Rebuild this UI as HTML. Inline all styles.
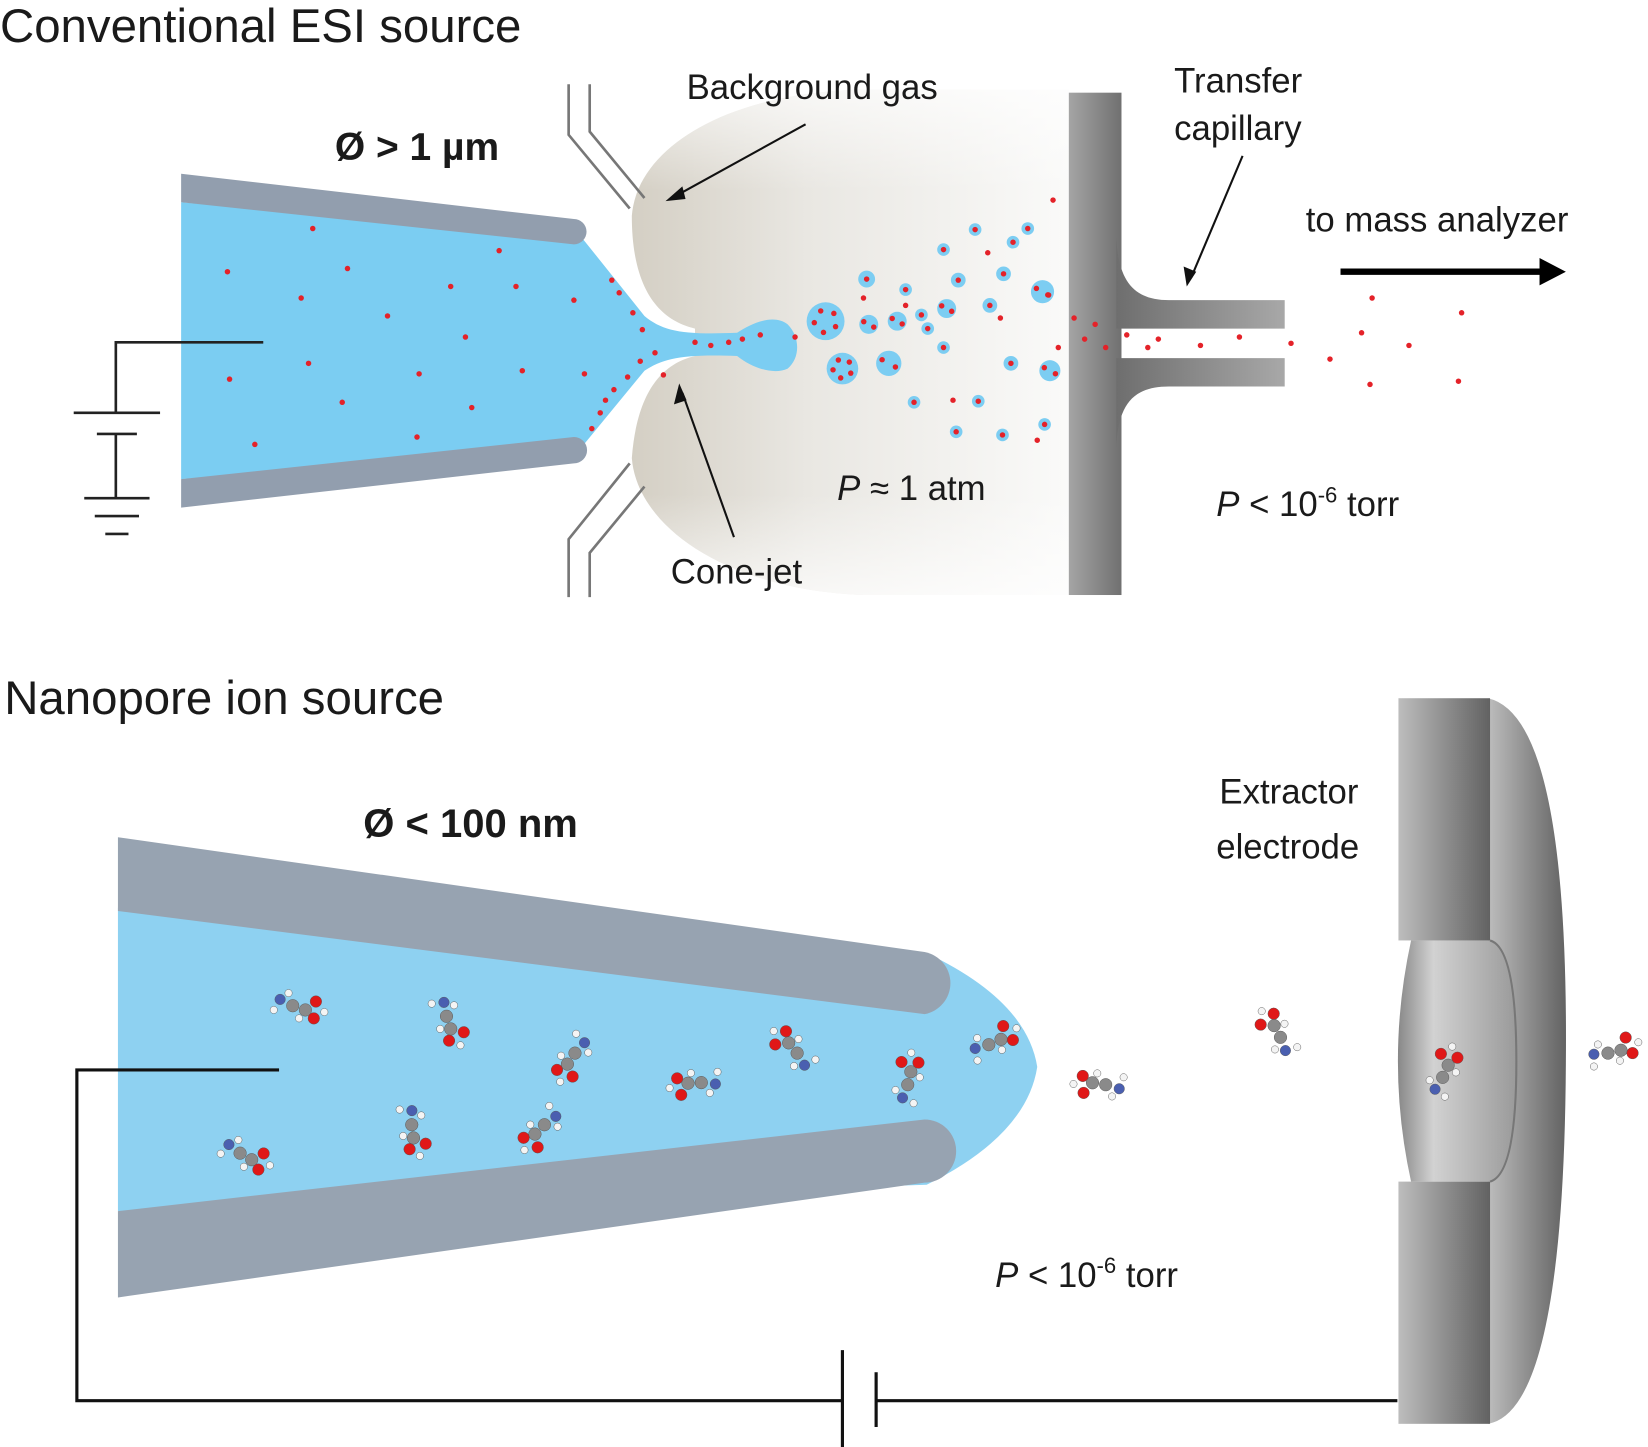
<!DOCTYPE html>
<html><head><meta charset="utf-8"><style>
html,body{margin:0;padding:0;background:#fff}
svg{display:block}
text{font-family:"Liberation Sans",Arial,sans-serif;fill:#1a1a1a}
</style></head><body>
<svg id="fig" width="1648" height="1447" viewBox="0 0 1565 1374" preserveAspectRatio="none" xmlns="http://www.w3.org/2000/svg">
<defs>
<linearGradient id="gas" x1="0" x2="1" y1="0" y2="0">
<stop offset="0" stop-color="#d4cfc4"/><stop offset="0.4" stop-color="#e9e7e2"/><stop offset="1" stop-color="#fafaf9"/></linearGradient>
<linearGradient id="gasfade" x1="0" x2="0" y1="0" y2="1">
<stop offset="0" stop-color="#fff" stop-opacity="0.7"/><stop offset="0.2" stop-color="#fff" stop-opacity="0"/><stop offset="0.8" stop-color="#fff" stop-opacity="0"/><stop offset="1" stop-color="#fff" stop-opacity="0.7"/></linearGradient>
<linearGradient id="cap" x1="0" x2="1"><stop offset="0" stop-color="#a5a5a5"/><stop offset="1" stop-color="#707070"/></linearGradient>
<linearGradient id="tube" x1="0" x2="1"><stop offset="0" stop-color="#6e6e6e"/><stop offset="1" stop-color="#a8a8a8"/></linearGradient>
<linearGradient id="elec" x1="0" x2="1"><stop offset="0" stop-color="#bdbdbd"/><stop offset="1" stop-color="#626262"/></linearGradient>
<linearGradient id="hole" x1="0" x2="1"><stop offset="0" stop-color="#888"/><stop offset="0.3" stop-color="#d2d2d2"/><stop offset="1" stop-color="#9a9a9a"/></linearGradient>
</defs>

<!-- TOP PANEL -->
<text x="0" y="40" font-size="45">Conventional ESI source</text>
<path d="M600,205 C605,140 690,88 820,85 L1015,85 L1015,565 L820,565 C690,560 605,500 600,435 C605,370 630,345 660,338 L660,312 C630,305 600,280 600,205 Z" fill="url(#gas)"/>
<path d="M600,205 C605,140 690,88 820,85 L1015,85 L1015,565 L820,565 C690,560 605,500 600,435 C605,370 630,345 660,338 L660,312 C630,305 600,280 600,205 Z" fill="url(#gasfade)"/>
<g fill="none" stroke="#777" stroke-width="2.5">
<path d="M540,80 V128 L598,198"/><path d="M560,80 V125 L612,188"/>
<path d="M540,567 V512 L598,440"/><path d="M560,567 V525 L612,462"/>
</g>
<path d="M172,192 L552,225 L612,300 C630,315 650,318 700,316 C715,306 735,298 748,308 C760,320 760,340 748,350 C735,356 715,350 700,338 C650,336 630,340 612,352 L552,425 L172,455 Z" fill="#7bcdf2"/>
<path d="M172,165 L545,208 A12,12 0 0 1 545,232 L172,192 Z" fill="#929eae"/>
<path d="M172,455 L545,415 A12,12 0 0 1 545,440 L172,482 Z" fill="#929eae"/>
<g stroke="#222" stroke-width="2.5" fill="none">
<path d="M250,325 H110 V392"/><path d="M70,392 H152"/><path d="M92,412 H130"/><path d="M110,412 V473"/>
<path d="M80,473 H142"/><path d="M90,490 H132"/><path d="M100,507 H122"/>
</g>
<rect x="1015" y="88" width="50" height="477" fill="url(#cap)"/>
<path d="M1060,225 C1062,265 1075,285 1110,285 H1220 V312 H1060 Z" fill="url(#tube)"/>
<path d="M1060,425 C1062,385 1075,367 1110,367 H1220 V340 H1060 Z" fill="url(#tube)"/>
<g id="drops"></g>
<g id="reddots"></g>
<g stroke="#111" stroke-width="2">
<line x1="765" y1="118" x2="640" y2="187"/><line x1="697" y1="510" x2="648" y2="373"/><line x1="1180" y1="148" x2="1131" y2="264"/>
</g>
<g fill="#111"><polygon points="632,191 648,177 651,189"/><polygon points="645,364 640,384 652,380"/><polygon points="1127,272 1124,253 1136,258"/></g>
<line x1="1273" y1="258" x2="1465" y2="258" stroke="#000" stroke-width="6"/>
<polygon points="1462,245 1487,258 1462,271" fill="#000"/>
<text x="318" y="152" font-size="37" font-weight="bold">Ø &gt; 1 µm</text>
<text x="652" y="94" font-size="33">Background gas</text>
<text x="1115" y="88" font-size="33">Transfer</text>
<text x="1115" y="133" font-size="33">capillary</text>
<text x="1240" y="220" font-size="33">to mass analyzer</text>
<text x="795" y="475" font-size="33"><tspan font-style="italic">P</tspan> ≈ 1 atm</text>
<text x="1155" y="490" font-size="33"><tspan font-style="italic">P</tspan> &lt; 10<tspan font-size="21" dy="-13">-6</tspan><tspan dy="13"> torr</tspan></text>
<text x="637" y="554" font-size="33">Cone-jet</text>

<!-- BOTTOM PANEL -->
<text x="4" y="678" font-size="45">Nanopore ion source</text>
<text x="345" y="795" font-size="38" font-weight="bold">Ø &lt; 100 nm</text>
<path d="M112,862 L880,905 Q975,950 985,1013 Q975,1078 880,1125 L112,1150 Z" fill="#8ed1f1"/>
<path d="M112,795 L878,904 A30,30 0 0 1 878,963 L112,865 Z" fill="#97a3b1"/>
<path d="M112,1150 L878,1063 A30,30 0 0 1 878,1123 L112,1232 Z" fill="#97a3b1"/>
<g stroke="#111" stroke-width="3" fill="none">
<path d="M265,1016 H73 V1330 H800"/><path d="M800,1282 V1375"/><path d="M832,1303 V1355"/><path d="M832,1330 H1327"/>
</g>
<path d="M1413,663 Q1490,680 1487,1010 Q1485,1340 1413,1352 Z" fill="url(#elec)"/>
<rect x="1328" y="663" width="87" height="230" fill="url(#elec)"/>
<rect x="1328" y="1122" width="87" height="230" fill="url(#elec)"/>
<path d="M1340,893 H1415 Q1440,900 1440,1008 Q1440,1115 1415,1122 H1340 Q1315,1008 1340,893 Z" fill="url(#hole)"/>
<path d="M1415,893 Q1440,900 1440,1008 Q1440,1115 1415,1122" fill="none" stroke="#777" stroke-width="2"/>
<text x="1158" y="763" font-size="33">Extractor</text>
<text x="1155" y="815" font-size="33">electrode</text>
<text x="945" y="1222" font-size="33"><tspan font-style="italic">P</tspan> &lt; 10<tspan font-size="21" dy="-13">-6</tspan><tspan dy="13"> torr</tspan></text>
<g id="mols"></g>
</svg>
<script>
const NS='http://www.w3.org/2000/svg';
const dropX=[784,825,852,800,844,823,860,910,899,940,953,990,976,926,896,896,960,997,868,908,952,992,929,875,962,881,1004];
const dropY=[305,308,305,350,345,265,275,266,293,290,260,277,217,218,237,330,345,352,382,410,413,403,381,299,230,312,187];
const dropR=[18,9,9,15,12,8,6,7,9,7,7,11,6,6,6,6,7,10,6,6,6,6,6,6,6,6,0];
const redX=[297,216,330,428,474,490,545,286,368,442,293,218,398,496,555,325,448,242,396,575,581,588,601,610,622,630,608,596,583,570,562,
 660,675,692,705,722,755,1100,1140,1177,1226,1263,1303,1293,1338,1388,1301,1385,1030,1050,1070,1090,1040,1020,1005,1000,820,860,938,950,905,995,985];
const redY=[217,258,255,272,238,272,285,283,300,320,345,360,355,352,355,382,387,422,415,380,266,278,297,313,335,356,343,358,370,392,407,
 325,328,325,322,318,320,322,328,320,326,341,283,316,328,297,365,362,322,330,318,330,308,302,330,190,283,290,240,302,380,280,418];
const molX=[278,424,546,666,757,862,939,228,391,517,1050,1216,1370,1527];
const molY=[955,965,1000,1028,1000,1030,992,1095,1068,1068,1030,985,1023,1000];
const drops=document.getElementById('drops');
for(let i=0;i<dropX.length;i++){if(!dropR[i])continue;const c=document.createElementNS(NS,'circle');


c.setAttribute('cx',dropX[i]);c.setAttribute('cy',dropY[i]);c.setAttribute('r',dropR[i]);c.setAttribute('fill','#7ccdf2');drops.appendChild(c);
const k=dropR[i]>12?5:(dropR[i]>8?2:1);for(let j=0;j<k;j++){const a=j*2*Math.PI/k+0.5,rr=k>1?dropR[i]*0.6:0;
const d=document.createElementNS(NS,'circle');


d.setAttribute('cx',dropX[i]+rr*Math.cos(a));d.setAttribute('cy',dropY[i]+rr*Math.sin(a));d.setAttribute('r',2.6);d.setAttribute('fill','#e42229');drops.appendChild(d);}}
const rd=document.getElementById('reddots');
for(let i=0;i<redX.length;i++){const d=document.createElementNS(NS,'circle');


d.setAttribute('cx',redX[i]);d.setAttribute('cy',redY[i]);d.setAttribute('r',2.6);d.setAttribute('fill','#e42229');rd.appendChild(d);}
const mols=document.getElementById('mols');
const atoms=[[0,0,6,'#8a8a8a'],[12,4,6,'#8a8a8a'],[-12,-6,5,'#4a5fb0'],[22,-4,5.5,'#e01818'],[20,12,5.5,'#e01818'],[-4,-12,3.5,'#f4f4f4'],[-18,4,3.5,'#f4f4f4'],[6,12,3.5,'#f4f4f4'],[30,6,3.5,'#f4f4f4']];
for(let i=0;i<molX.length;i++){const g=document.createElementNS(NS,'g');


g.setAttribute('transform','translate('+molX[i]+','+molY[i]+') rotate('+(i*53)+')');
atoms.forEach(a=>{const c=document.createElementNS(NS,'circle');c.setAttribute('cx',a[0]);c.setAttribute('cy',a[1]);c.setAttribute('r',a[2]);c.setAttribute('fill',a[3]);c.setAttribute('stroke','#555');c.setAttribute('stroke-width','0.4');g.appendChild(c);});
mols.appendChild(g);}
</script>
</body></html>
